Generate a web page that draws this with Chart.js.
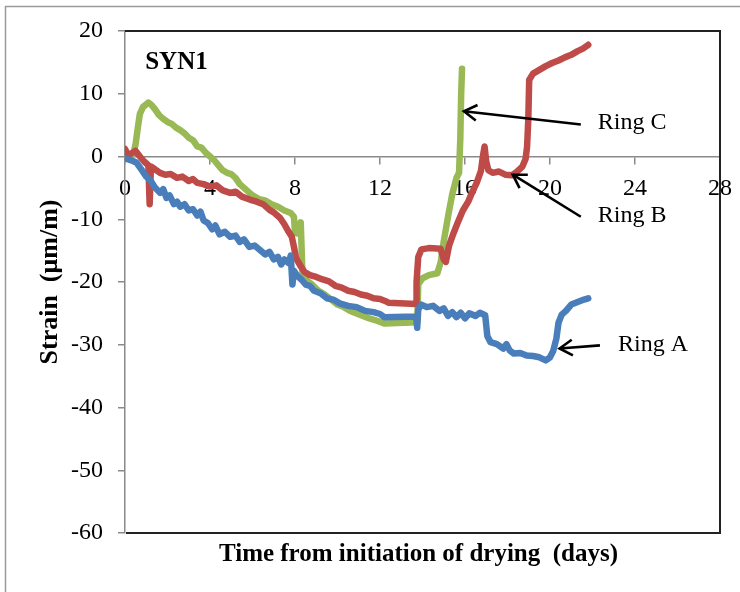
<!DOCTYPE html>
<html>
<head>
<meta charset="utf-8">
<title>SYN1 ring strain</title>
<script src="https://cdn.jsdelivr.net/npm/chart.js@4/dist/chart.umd.min.js"></script>
<style>
  html, body { margin: 0; padding: 0; background: #fff; }
  #wrap { width: 740px; height: 592px; position: relative; }
</style>
</head>
<body>
<div id="wrap"><canvas id="chart" width="740" height="592"></canvas></div>
<script>
// Restrained ring test, specimen SYN1: strain (µm/m) vs time from initiation of drying (days)
const xTicks = [0, 4, 8, 12, 16, 20, 24, 28];
const yTicks = [-60, -50, -40, -30, -20, -10, 0, 10, 20];

const ringADays = [0, 0.3, 0.55, 0.8, 1.0, 1.2, 1.4, 1.65, 1.8, 1.95, 2.1, 2.3, 2.45, 2.6, 2.8, 3.0, 3.2, 3.4, 3.55, 3.7, 3.9, 4.1, 4.25, 4.45, 4.7, 4.95, 5.2, 5.4, 5.6, 5.85, 6.1, 6.35, 6.6, 6.8, 7.0, 7.2, 7.35, 7.5, 7.7, 7.8, 7.88, 7.95, 8.1, 8.3, 8.5, 8.7, 8.9, 9.2, 9.5, 9.8, 10.1, 10.5, 10.9, 11.3, 11.7, 12.0, 12.2, 13.7, 13.75, 13.8, 13.95, 14.2, 14.5, 14.8, 15.0, 15.2, 15.4, 15.6, 15.8, 16.0, 16.2, 16.5, 16.7, 16.95, 17.05, 17.2, 17.5, 17.8, 17.95, 18.1, 18.3, 18.6, 18.9, 19.2, 19.5, 19.8, 20.0, 20.15, 20.3, 20.4, 20.55, 20.75, 21.0, 21.3, 21.6, 21.8];
const ringAStrain = [-0.3, -0.6, -1.0, -2.2, -3.2, -3.8, -4.9, -5.8, -5.2, -6.6, -6.2, -7.6, -7.2, -8.0, -7.6, -8.6, -8.4, -9.4, -8.8, -10.2, -10.6, -11.6, -11.0, -12.4, -12.0, -12.8, -12.6, -13.6, -13.2, -14.4, -14.2, -14.9, -15.6, -15.2, -16.4, -16.0, -17.2, -16.4, -17.0, -15.8, -20.4, -18.2, -19.0, -19.6, -20.4, -20.6, -21.4, -21.8, -22.6, -22.8, -23.4, -23.8, -24.0, -24.6, -24.8, -25.1, -25.6, -25.5, -27.3, -24.4, -23.6, -24.0, -23.8, -24.6, -24.2, -25.4, -24.8, -25.6, -24.9, -25.8, -25.0, -25.4, -24.9, -25.3, -28.6, -29.6, -29.9, -30.6, -29.9, -30.9, -31.4, -31.3, -31.7, -31.8, -32.0, -32.5, -32.0, -31.0, -29.0, -26.5, -25.2, -24.6, -23.6, -23.2, -22.8, -22.6];

const ringBDays = [0, 0.15, 0.35, 0.5, 0.7, 0.9, 1.1, 1.16, 1.22, 1.4, 1.65, 1.9, 2.15, 2.45, 2.7, 3.0, 3.2, 3.4, 3.7, 4.0, 4.3, 4.6, 4.95, 5.2, 5.5, 5.9, 6.2, 6.5, 6.8, 7.0, 7.3, 7.5, 7.7, 7.85, 7.95, 8.05, 8.25, 8.45, 8.7, 9.0, 9.3, 9.6, 9.9, 10.2, 10.5, 10.8, 11.1, 11.4, 11.7, 12.0, 12.3, 12.4, 13.7, 13.72, 13.8, 13.95, 14.3, 14.85, 15.0, 15.1, 15.25, 15.45, 15.65, 15.9, 16.15, 16.35, 16.55, 16.75, 16.85, 16.92, 17.0, 17.1, 17.3, 17.6, 17.9, 18.2, 18.45, 18.7, 18.85, 18.92, 18.98, 19.02, 19.2, 19.5, 19.8, 20.1, 20.4, 20.7, 21.0, 21.3, 21.55, 21.8];
const ringBStrain = [1.2, 0.2, 0.6, 0.9, 0.0, -0.8, -1.4, -7.6, -1.6, -2.0, -2.6, -2.9, -2.8, -3.4, -3.2, -3.9, -3.6, -4.2, -4.4, -4.8, -4.6, -5.4, -5.8, -5.6, -6.4, -6.9, -7.2, -7.6, -8.5, -8.9, -9.8, -10.8, -12.0, -12.8, -14.4, -16.2, -17.4, -18.4, -18.9, -19.2, -19.6, -19.9, -20.6, -20.9, -21.4, -21.6, -22.0, -22.2, -22.6, -22.7, -23.1, -23.3, -23.5, -20.0, -16.0, -14.8, -14.6, -14.7, -16.4, -16.8, -14.2, -12.3, -10.6, -8.6, -7.2, -5.6, -4.2, -2.3, 0.2, 1.6, -0.8, -2.2, -2.6, -2.4, -2.9, -3.0, -2.4, -1.6, -0.4, 1.5, 6.0, 12.2, 13.2, 13.8, 14.4, 14.9, 15.3, 15.8, 16.2, 16.8, 17.2, 17.8];

const ringCDays = [0, 0.2, 0.4, 0.5, 0.6, 0.7, 0.85, 1.0, 1.1, 1.25, 1.4, 1.6, 1.8, 2.0, 2.2, 2.4, 2.6, 2.8, 3.0, 3.2, 3.4, 3.6, 3.8, 4.0, 4.2, 4.4, 4.6, 4.8, 5.0, 5.2, 5.4, 5.6, 5.8, 6.0, 6.3, 6.6, 6.9, 7.2, 7.5, 7.8, 7.95, 8.0, 8.2, 8.27, 8.35, 8.55, 8.8, 9.1, 9.4, 9.7, 10.0, 10.3, 10.6, 10.9, 11.2, 11.5, 11.8, 12.2, 13.75, 13.8, 14.0, 14.3, 14.7, 14.86, 15.0, 15.2, 15.4, 15.6, 15.72, 15.78, 15.82, 15.86];
const ringCStrain = [0.4, 0.1, 0.5, 2.0, 4.5, 6.8, 7.9, 8.3, 8.6, 8.2, 7.6, 6.6, 6.0, 5.5, 5.2, 4.6, 4.2, 3.7, 3.0, 2.6, 1.6, 1.4, 0.6, 0.0, -0.6, -1.4, -2.2, -2.6, -2.8, -3.4, -4.4, -5.0, -5.6, -6.2, -6.8, -7.0, -7.6, -8.0, -8.6, -9.0, -9.6, -12.2, -12.3, -10.5, -18.6, -19.8, -20.4, -21.4, -22.0, -22.8, -23.6, -24.0, -24.6, -25.0, -25.4, -25.8, -26.1, -26.6, -26.4, -20.4, -19.4, -18.9, -18.6, -16.8, -13.5, -9.6, -6.0, -3.4, -2.6, 3.0, 10.0, 14.0];

const seriesNames = ['Ring A', 'Ring B', 'Ring C'];

const COLORS = { A: '#4a7ebb', B: '#be4b48', C: '#98b954' };
const SERIF = '"Liberation Serif", "Times New Roman", serif';

function toPoints(xs, ys) {
  return xs.map((x, i) => ({ x: x, y: ys[i] }));
}

function lineSet(label, xs, ys, color) {
  return {
    label: label,
    data: toPoints(xs, ys),
    borderColor: color,
    backgroundColor: color,
    borderWidth: 6.5,
    pointRadius: 0,
    tension: 0,
    borderJoinStyle: 'round',
    borderCapStyle: 'round',
    fill: false
  };
}

// open "V" arrowhead plus shaft
function drawArrow(ctx, x1, y1, x2, y2) {
  const ang = Math.atan2(y2 - y1, x2 - x1);
  const len = 15, spread = 0.55;
  ctx.save();
  ctx.strokeStyle = '#000';
  ctx.lineWidth = 2.6;
  ctx.lineCap = 'butt';
  ctx.lineJoin = 'miter';
  ctx.beginPath();
  ctx.moveTo(x1, y1);
  ctx.lineTo(x2, y2);
  ctx.stroke();
  ctx.beginPath();
  ctx.moveTo(x2 - len * Math.cos(ang - spread), y2 - len * Math.sin(ang - spread));
  ctx.lineTo(x2, y2);
  ctx.lineTo(x2 - len * Math.cos(ang + spread), y2 - len * Math.sin(ang + spread));
  ctx.stroke();
  ctx.restore();
}

const decorations = {
  id: 'decorations',
  beforeDraw(chart) {
    const ctx = chart.ctx;
    ctx.save();
    ctx.fillStyle = '#fff';
    ctx.fillRect(0, 0, chart.width, chart.height);
    // outer frame
    ctx.strokeStyle = '#9a9a9a';
    ctx.lineWidth = 1.5;
    ctx.beginPath();
    ctx.moveTo(5.5, chart.height + 5);
    ctx.lineTo(5.5, 6.5);
    ctx.lineTo(chart.width + 5, 6.5);
    ctx.stroke();
    ctx.restore();
  },
  beforeDatasetsDraw(chart) {
    const { left, right, top, bottom } = chart.chartArea;
    const ctx = chart.ctx;
    ctx.save();
    ctx.strokeStyle = '#222';
    ctx.lineWidth = 2;
    ctx.beginPath();
    ctx.moveTo(left, top);
    ctx.lineTo(right, top);
    ctx.lineTo(right, bottom);
    ctx.lineTo(left + 1, bottom);
    ctx.stroke();
    ctx.restore();
  },
  afterDatasetsDraw(chart) {
    const ctx = chart.ctx;
    const xs = chart.scales.x, ys = chart.scales.y;
    const px = v => xs.getPixelForValue(v);
    const py = v => ys.getPixelForValue(v);
    const area = chart.chartArea;
    ctx.save();
    ctx.fillStyle = '#000';
    ctx.textBaseline = 'middle';

    // panel label
    ctx.font = 'bold 25px ' + SERIF;
    ctx.textAlign = 'left';
    ctx.fillText('SYN1', px(0.95), py(15.0));

    // series call-outs
    ctx.font = '24px ' + SERIF;
    ctx.fillText(seriesNames[2], px(22.25), py(5.4));
    ctx.fillText(seriesNames[1], px(22.25), py(-9.4));
    ctx.fillText(seriesNames[0], px(23.2), py(-30.0));
    drawArrow(ctx, px(21.45), py(5.1), px(15.95), py(7.2));
    drawArrow(ctx, px(21.45), py(-9.6), px(18.25), py(-2.9));
    drawArrow(ctx, px(22.35), py(-30.1), px(20.45), py(-30.6));

    // horizontal axis title (the axis itself sits on y = 0)
    ctx.font = 'bold 25px ' + SERIF;
    ctx.textAlign = 'center';
    ctx.fillText('Time from initiation of drying  (days)', (area.left + area.right) / 2 - 4, area.bottom + 22);
    ctx.restore();
  }
};

const tickFont = { family: SERIF, size: 24 };

new Chart(document.getElementById('chart'), {
  type: 'line',
  data: {
    datasets: [
      lineSet(seriesNames[0], ringADays, ringAStrain, COLORS.A),
      lineSet(seriesNames[1], ringBDays, ringBStrain, COLORS.B),
      lineSet(seriesNames[2], ringCDays, ringCStrain, COLORS.C)
    ]
  },
  options: {
    responsive: false,
    animation: false,
    events: [],
    layout: { autoPadding: false, padding: { top: 31, right: 20, bottom: 59, left: 0 } },
    plugins: {
      legend: { display: false },
      tooltip: { enabled: false }
    },
    scales: {
      x: {
        type: 'linear',
        min: xTicks[0],
        max: xTicks[xTicks.length - 1],
        position: { y: 0 },
        afterBuildTicks: s => { s.ticks = xTicks.map(v => ({ value: v })); },
        // end labels may overhang the plot frame; don't let them shrink the plot
        afterFit: s => { s.paddingLeft = 0; s.paddingRight = 0; },
        ticks: { font: tickFont, color: '#000', padding: 11, maxRotation: 0, autoSkip: false },
        grid: { drawOnChartArea: false, drawTicks: true, tickLength: 7, color: '#8a8a8a', lineWidth: 1.5 },
        border: { display: true, color: '#8a8a8a', width: 1.5 }
      },
      y: {
        type: 'linear',
        min: yTicks[0],
        max: yTicks[yTicks.length - 1],
        afterBuildTicks: s => { s.ticks = yTicks.map(v => ({ value: v })); },
        ticks: { font: tickFont, color: '#000', padding: 15, autoSkip: false },
        grid: { drawOnChartArea: false, drawTicks: true, tickLength: 7, color: '#8a8a8a', lineWidth: 1.5 },
        border: { display: true, color: '#8a8a8a', width: 1.5 },
        title: {
          display: true,
          text: 'Strain  (μm/m)',
          color: '#000',
          font: { family: SERIF, size: 26, weight: 'bold' },
          padding: { top: 35, bottom: 0 }
        },
        afterFit: s => { s.width = 125; }
      }
    }
  },
  plugins: [decorations]
});
</script>
</body>
</html>
